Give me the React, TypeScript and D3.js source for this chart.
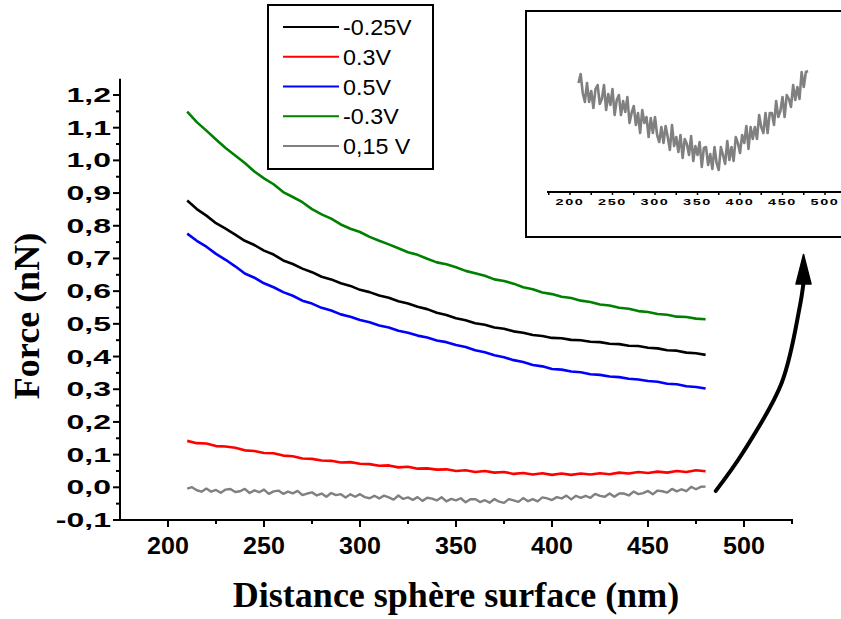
import React from "react";
import * as d3 from "d3";

// ---------- data ----------
const distances5: number[] = d3.range(210, 480.001, 5);
const distances25: number[] = d3.range(210, 480.001, 2.5);

const seriesGreen: number[] = [
  1.149, 1.117, 1.091, 1.064, 1.038, 1.015, 0.992, 0.966, 0.945, 0.927,
  0.903, 0.888, 0.872, 0.851, 0.835, 0.822, 0.804, 0.791, 0.781, 0.766,
  0.754, 0.743, 0.731, 0.719, 0.711, 0.699, 0.688, 0.682, 0.673, 0.662,
  0.655, 0.647, 0.636, 0.631, 0.623, 0.612, 0.606, 0.596, 0.591, 0.583,
  0.579, 0.571, 0.567, 0.559, 0.556, 0.549, 0.546, 0.539, 0.536, 0.530,
  0.528, 0.522, 0.521, 0.516, 0.514,
];
const seriesBlack: number[] = [
  0.877, 0.851, 0.831, 0.808, 0.791, 0.773, 0.754, 0.741, 0.724, 0.712,
  0.694, 0.683, 0.669, 0.658, 0.644, 0.636, 0.624, 0.616, 0.604, 0.597,
  0.587, 0.580, 0.569, 0.562, 0.552, 0.545, 0.534, 0.527, 0.517, 0.511,
  0.502, 0.497, 0.489, 0.485, 0.477, 0.473, 0.466, 0.463, 0.457, 0.456,
  0.451, 0.450, 0.445, 0.444, 0.439, 0.438, 0.433, 0.432, 0.427, 0.425,
  0.419, 0.418, 0.412, 0.410, 0.405,
];
const seriesBlue: number[] = [
  0.776, 0.754, 0.736, 0.714, 0.696, 0.676, 0.654, 0.641, 0.624, 0.612,
  0.597, 0.586, 0.571, 0.562, 0.549, 0.541, 0.529, 0.522, 0.512, 0.505,
  0.495, 0.489, 0.479, 0.473, 0.464, 0.458, 0.449, 0.444, 0.435, 0.429,
  0.419, 0.413, 0.404, 0.398, 0.389, 0.383, 0.374, 0.370, 0.362, 0.360,
  0.354, 0.352, 0.346, 0.344, 0.339, 0.337, 0.332, 0.330, 0.325, 0.323,
  0.317, 0.315, 0.309, 0.307, 0.302,
];
const seriesRed: number[] = [
  0.142, 0.135, 0.134, 0.126, 0.125, 0.121, 0.113, 0.111, 0.105, 0.104,
  0.097, 0.095, 0.088, 0.087, 0.082, 0.081, 0.076, 0.077, 0.072, 0.071,
  0.066, 0.067, 0.061, 0.063, 0.057, 0.058, 0.054, 0.055, 0.050, 0.052,
  0.047, 0.050, 0.045, 0.047, 0.041, 0.044, 0.039, 0.043, 0.038, 0.042,
  0.038, 0.042, 0.039, 0.043, 0.040, 0.045, 0.042, 0.047, 0.044, 0.048,
  0.045, 0.050, 0.047, 0.052, 0.049,
];
const seriesGray: number[] = [
  -0.004, 0.0005, -0.009, -0.0135, -0.004, -0.0135, -0.008, -0.0165, -0.007, -0.005,
  -0.0145, -0.012, -0.005, -0.0175, -0.0095, -0.015, -0.007, -0.020, -0.0125, -0.010,
  -0.020, -0.013, -0.0185, -0.011, -0.024, -0.019, -0.0155, -0.025, -0.019, -0.029,
  -0.0175, -0.024, -0.021, -0.031, -0.0215, -0.029, -0.021, -0.030, -0.0335, -0.026,
  -0.034, -0.0255, -0.031, -0.0375, -0.025, -0.0355, -0.031, -0.0385, -0.030, -0.0415,
  -0.032, -0.0345, -0.040, -0.0305, -0.043, -0.0355, -0.040, -0.0335, -0.046, -0.0365,
  -0.036, -0.045, -0.0395, -0.047, -0.036, -0.044, -0.0475, -0.036, -0.040, -0.0445,
  -0.033, -0.0425, -0.036, -0.043, -0.031, -0.034, -0.039, -0.030, -0.034, -0.0255,
  -0.037, -0.026, -0.032, -0.026, -0.032, -0.020, -0.026, -0.029, -0.019, -0.029,
  -0.019, -0.019, -0.025, -0.013, -0.021, -0.018, -0.011, -0.021, -0.010, -0.012,
  -0.016, -0.005, -0.0125, -0.006, -0.012, 0.0015, -0.006, 0.0015, 0.002,
];

const legendLabels: string[] = ["-0.25V", "0.3V", "0.5V", "-0.3V", "0,15 V"];
const legendColors: string[] = ["#000000", "#ff0000", "#0000ff", "#008000", "#808080"];

const yMajorTicks: number[] = [-0.1, 0, 0.1, 0.2, 0.3, 0.4, 0.5, 0.6, 0.7, 0.8, 0.9, 1.0, 1.1, 1.2];
const yMinorTicks: number[] = [-0.05, 0.05, 0.15, 0.25, 0.35, 0.45, 0.55, 0.65, 0.75, 0.85, 0.95, 1.05, 1.15];
const xMajorTicks: number[] = [200, 250, 300, 350, 400, 450, 500];
const xMinorTicks: number[] = [225, 275, 325, 375, 425, 475, 525];
const insetMajorTicks: number[] = [200, 250, 300, 350, 400, 450, 500];
const insetAllTicks: number[] = [175, 200, 225, 250, 275, 300, 325, 350, 375, 400, 425, 450, 475, 500, 525];

// annotation arrow path (distance, force)
const arrowPoints: [number, number][] = [
  [485.3, -0.011], [499.3, 0.105], [519.6, 0.319], [529, 0.551], [531, 0.625],
];
const arrowTip: [number, number] = [531, 0.712];

const W = 841;
const H = 619;

export default function App() {
  const x = d3.scaleLinear().domain([175, 525]).range([120, 792]);
  const y = d3.scaleLinear().domain([-0.1, 1.25]).range([520, 78.65]);
  const ix = d3.scaleLinear().domain([175, 525]).range([548.75, 846.25]);
  const iy = d3.scaleLinear().domain([-0.04, 0]).range([155, 75]);

  const line5 = d3.line<number>().x((_, i) => x(distances5[i])).y((d) => y(d));
  const lineGray = d3.line<number>().x((_, i) => x(distances25[i])).y((d) => y(d));
  const lineInset = d3.line<number>().x((_, i) => ix(distances25[i])).y((d) => iy(d));

  const main5 = [
    { data: seriesBlack, color: "#000000" },
    { data: seriesRed, color: "#ff0000" },
    { data: seriesBlue, color: "#0000ff" },
    { data: seriesGreen, color: "#008000" },
  ];

  const arrowLine = d3
    .line<[number, number]>()
    .x((d) => x(d[0]))
    .y((d) => y(d[1]))
    .curve(d3.curveCatmullRom);
  const last = arrowPoints[arrowPoints.length - 1];
  const hx = x(last[0]);
  const hy = y(last[1]);
  const tx = x(arrowTip[0]);
  const ty = y(arrowTip[1]);

  return (
    <svg
      width={W}
      height={H}
      style={{ position: "absolute", left: 0, top: 0, background: "#fff" }}
      fontFamily="'Liberation Sans', Arial, sans-serif"
    >
      <rect x={0} y={0} width={W} height={H} fill="#fff" />

      {/* data lines */}
      {main5.map((s, k) => (
        <path key={k} d={line5(s.data) || ""} fill="none" stroke={s.color} strokeWidth={2.6} strokeLinejoin="round" />
      ))}
      <path d={lineGray(seriesGray) || ""} fill="none" stroke="#808080" strokeWidth={2.4} strokeLinejoin="round" />

      {/* y axis */}
      <line x1={120} x2={120} y1={y(1.25)} y2={y(-0.1)} stroke="#000" strokeWidth={2} />
      {yMajorTicks.map((t) => (
        <g key={"ym" + t}>
          <line x1={113} x2={120} y1={y(t)} y2={y(t)} stroke="#000" strokeWidth={2} />
          <text
            transform={`translate(111,${y(t) + 7}) scale(1.6,1)`}
            textAnchor="end"
            fontSize={20}
            fontWeight="bold"
          >
            {t.toFixed(1).replace(".", ",")}
          </text>
        </g>
      ))}
      {yMinorTicks.map((t) => (
        <line key={"yn" + t} x1={116} x2={120} y1={y(t)} y2={y(t)} stroke="#000" strokeWidth={2} />
      ))}

      {/* x axis */}
      <line x1={119} x2={x(525) + 1} y1={520} y2={520} stroke="#000" strokeWidth={2} />
      {xMajorTicks.map((t) => (
        <g key={"xm" + t}>
          <line x1={x(t)} x2={x(t)} y1={520} y2={527} stroke="#000" strokeWidth={2} />
          <text
            transform={`translate(${x(t)},554) scale(1.09,1)`}
            textAnchor="middle"
            fontSize={23}
            fontWeight="bold"
          >
            {t}
          </text>
        </g>
      ))}
      {xMinorTicks.map((t) => (
        <line key={"xn" + t} x1={x(t)} x2={x(t)} y1={520} y2={524} stroke="#000" strokeWidth={2} />
      ))}

      {/* axis titles */}
      <text
        x={456}
        y={607}
        textAnchor="middle"
        fontFamily="'Liberation Serif', 'Times New Roman', serif"
        fontWeight="bold"
        fontSize={36}
      >
        Distance sphère surface (nm)
      </text>
      <text
        transform="translate(39,316) rotate(-90)"
        textAnchor="middle"
        fontFamily="'Liberation Serif', 'Times New Roman', serif"
        fontWeight="bold"
        fontSize={36}
      >
        Force (nN)
      </text>

      {/* legend */}
      <rect x={268} y={5} width={165} height={164} fill="#fff" stroke="#000" strokeWidth={2} />
      {legendLabels.map((lab, i) => {
        const ly = 27 + i * 29.75;
        return (
          <g key={lab}>
            <line x1={283} x2={339} y1={ly} y2={ly} stroke={legendColors[i]} strokeWidth={2} />
            <text transform={`translate(343,${ly + 8}) scale(1.06,1)`} fontSize={22}>
              {lab}
            </text>
          </g>
        );
      })}

      {/* inset */}
      <rect x={526} y={11} width={330} height={226} fill="#fff" stroke="#000" strokeWidth={2} />
      <path d={lineInset(seriesGray) || ""} fill="none" stroke="#808080" strokeWidth={2.6} strokeLinejoin="round" />
      <line x1={547} x2={W} y1={192} y2={192} stroke="#000" strokeWidth={2} />
      {insetAllTicks.map((t) => (
        <line key={"it" + t} x1={ix(t)} x2={ix(t)} y1={191} y2={195} stroke="#000" strokeWidth={1.5} />
      ))}
      {insetMajorTicks.map((t) => (
        <text
          key={"il" + t}
          transform={`translate(${ix(t)},205) scale(1.7,1)`}
          textAnchor="middle"
          fontSize={8.5}
          fontWeight="bold"
          letterSpacing={1}
        >
          {t}
        </text>
      ))}

      {/* arrow */}
      <path d={arrowLine(arrowPoints) || ""} fill="none" stroke="#000" strokeWidth={4} strokeLinecap="round" />
      <path
        d={`M${tx},${ty} L${hx - 7.5},${hy + 1} L${hx + 7.5},${hy + 1} Z`}
        fill="#000"
        stroke="#000"
        strokeWidth={1.5}
        strokeLinejoin="round"
      />
    </svg>
  );
}
